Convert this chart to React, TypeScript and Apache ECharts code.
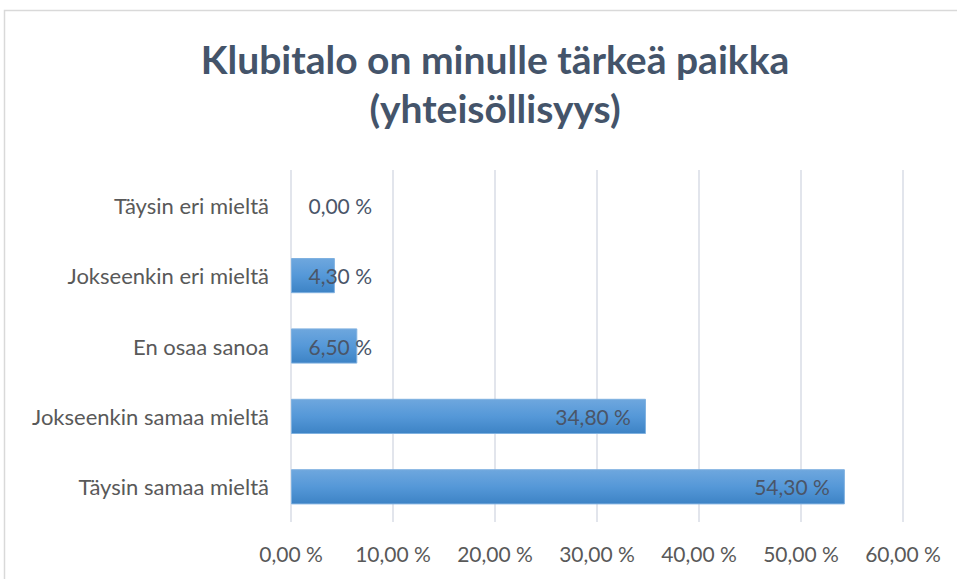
import React, { useEffect, useRef } from "react";
import * as echarts from "echarts";

const categories = [
  "Täysin samaa mieltä",
  "Jokseenkin samaa mieltä",
  "En osaa sanoa",
  "Jokseenkin eri mieltä",
  "Täysin eri mieltä",
];
const values = [54.3, 34.8, 6.5, 4.3, 0.0];
const titleText = "Klubitalo on minulle tärkeä paikka\n(yhteisöllisyys)";

const fmt = (v: number) => v.toFixed(2).replace(".", ",") + " %";

export default function App() {
  const ref = useRef<HTMLDivElement>(null);
  useEffect(() => {
    if (!ref.current) return;
    const chart = echarts.init(ref.current, undefined, { renderer: "svg" });
    const font = "Lato, 'Noto Sans', sans-serif";
    chart.setOption({
      animation: false,
      backgroundColor: "#ffffff",
      title: {
        text: titleText,
        left: 490,
        textAlign: "center",
        top: 29,
        textStyle: {
          fontFamily: font,
          fontSize: 39,
          fontWeight: "bold",
          color: "#44546a",
          lineHeight: 49,
        },
      },
      graphic: [
        {
          type: "rect",
          shape: { x: 4.5, y: 10.5, width: 1000, height: 600 },
          style: { fill: "none", stroke: "#d9d9d9", lineWidth: 1.5 },
          silent: true,
        },
      ],
      grid: { left: 291, right: 54, top: 170, bottom: 57, containLabel: false },
      xAxis: {
        type: "value",
        min: 0,
        max: 60,
        interval: 10,
        axisLine: { show: false },
        axisTick: { show: false },
        splitLine: { show: true, lineStyle: { color: "#d9dde6", width: 1.5 } },
        axisLabel: {
          formatter: (v: number) => fmt(v),
          fontFamily: font,
          fontSize: 21,
          color: "#595959",
          margin: 21,
        },
      },
      yAxis: {
        type: "category",
        data: categories,
        axisLine: { show: false },
        axisTick: { show: false },
        axisLabel: {
          fontFamily: font,
          fontSize: 22,
          color: "#595959",
          margin: 22,
        },
      },
      series: [
        {
          type: "bar",
          barWidth: "50%",
          data: values.map((v) => ({
            value: v,
            itemStyle: v === 0 ? { borderWidth: 0 } : undefined,
            label:
              v < 10
                ? { position: [81, "50%"], align: "right", verticalAlign: "middle" }
                : { position: "insideRight", distance: 15 },
          })),
          itemStyle: {
            color: new echarts.graphic.LinearGradient(0, 0, 0, 1, [
              { offset: 0, color: "#6ea7de" },
              { offset: 0.5, color: "#5598d8" },
              { offset: 1, color: "#3d83c5" },
            ]),
            borderColor: "#7fb1e0",
            borderWidth: 1,
          },
          label: {
            show: true,
            formatter: (p: any) => fmt(p.value),
            fontFamily: font,
            fontSize: 21,
            color: "#4a5568",
          },
        },
      ],
    });
    return () => chart.dispose();
  }, []);
  return (
    <div
      ref={ref}
      style={{ position: "fixed", left: 0, top: 0, width: 957, height: 579 }}
    />
  );
}
